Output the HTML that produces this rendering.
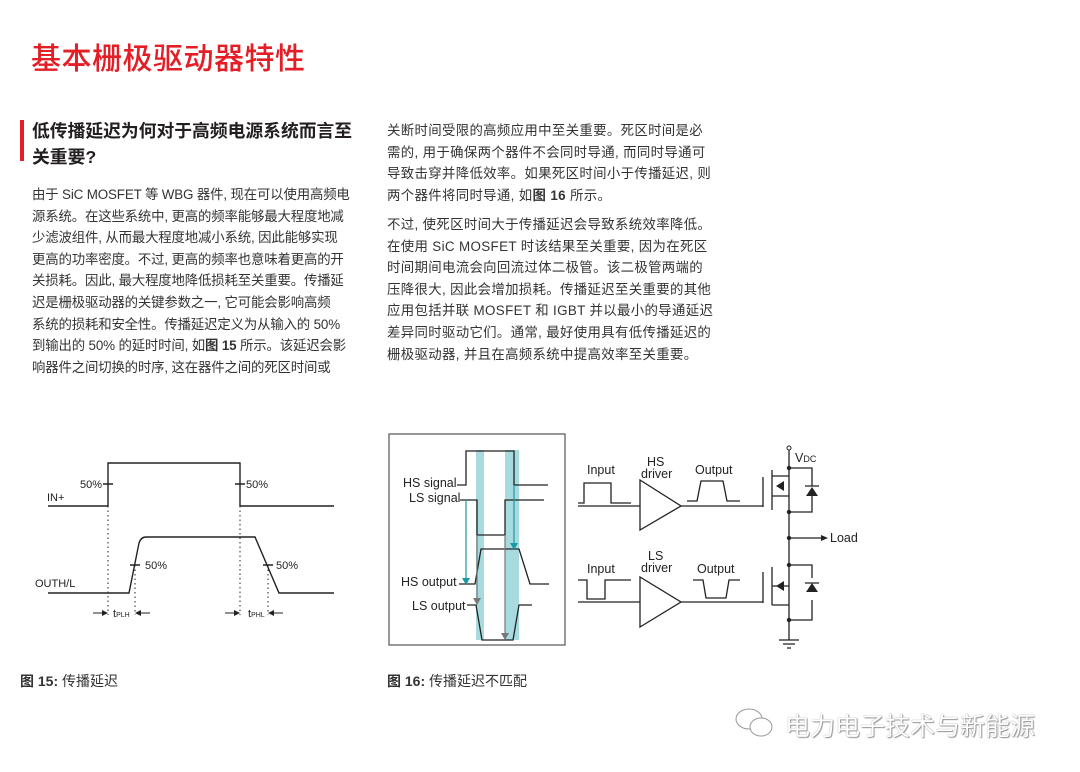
<!DOCTYPE html>
<html><head><meta charset="utf-8"><style>
body{margin:0;background:#fff;width:1080px;height:772px;position:relative;overflow:hidden;font-family:"Liberation Sans","Noto Sans CJK SC",sans-serif;color:#231f20}
.t{position:absolute;left:31px;top:34px;font-size:30px;color:#e41e26;font-weight:500;letter-spacing:0.5px}
.bar{position:absolute;left:20px;top:120px;width:4px;height:41px;background:#e41e26}
.h{position:absolute;left:32px;top:118px;font-size:17.8px;font-weight:bold;line-height:26px;white-space:nowrap}
.p{position:absolute;font-size:13.4px;line-height:21.6px;color:#333;white-space:nowrap}
.cap{position:absolute;top:671px;font-size:14px;color:#333}
.wm{position:absolute;left:785px;top:707px;font-size:25px;color:#fff;text-shadow:0 0 1px #777,1px 1px 1px #999}
</style></head><body>
<div class="t">基本栅极驱动器特性</div>
<div class="bar"></div>
<div class="h">低传播延迟为何对于高频电源系统而言至<br>关重要?</div>
<div class="p" style="left:32px;top:184px;letter-spacing:-0.15px">由于 SiC MOSFET 等 WBG 器件, 现在可以使用高频电<br>源系统。在这些系统中, 更高的频率能够最大程度地减<br>少滤波组件, 从而最大程度地减小系统, 因此能够实现<br>更高的功率密度。不过, 更高的频率也意味着更高的开<br>关损耗。因此, 最大程度地降低损耗至关重要。传播延<br>迟是栅极驱动器的关键参数之一, 它可能会影响高频<br>系统的损耗和安全性。传播延迟定义为从输入的 50%<br>到输出的 50% 的延时时间, 如<b>图 15</b> 所示。该延迟会影<br>响器件之间切换的时序, 这在器件之间的死区时间或</div>
<div class="p" style="left:387px;top:120px;letter-spacing:0.35px">关断时间受限的高频应用中至关重要。死区时间是必<br>需的, 用于确保两个器件不会同时导通, 而同时导通可<br>导致击穿并降低效率。如果死区时间小于传播延迟, 则<br>两个器件将同时导通, 如<b>图 16</b> 所示。</div>
<div class="p" style="left:387px;top:214px;letter-spacing:0.35px">不过, 使死区时间大于传播延迟会导致系统效率降低。<br>在使用 SiC MOSFET 时该结果至关重要, 因为在死区<br>时间期间电流会向回流过体二极管。该二极管两端的<br>压降很大, 因此会增加损耗。传播延迟至关重要的其他<br>应用包括并联 MOSFET 和 IGBT 并以最小的导通延迟<br>差异同时驱动它们。通常, 最好使用具有低传播延迟的<br>栅极驱动器, 并且在高频系统中提高效率至关重要。</div>

<svg width="1080" height="772" style="position:absolute;left:0;top:0" font-family="Liberation Sans, sans-serif" font-size="11" fill="none" stroke="#222">
<g stroke-width="1.4">
<polyline points="48,506 108,506 108,463 240,463 240,506 334,506"/>
<path d="M48,593 H129 L139,543 Q141,537 146,537 H255 L279,593 H334"/>
<path d="M103,484H113M235,484H245M130,565H140M263,565H273"/>
</g>
<g stroke-width="1" stroke-dasharray="1.5,3">
<path d="M108,506V615M135,565V615M240,506V615M268,565V615"/>
</g>
<g fill="#222" stroke="none">
<text x="80" y="488">50%</text><text x="246" y="488">50%</text>
<text x="145" y="569">50%</text><text x="276" y="569">50%</text>
<text x="47" y="501">IN+</text><text x="35" y="587">OUTH/L</text>
<text x="113" y="617">t<tspan font-size="7">PLH</tspan></text>
<text x="248" y="617">t<tspan font-size="7">PHL</tspan></text>
<path d="M108,613l-6,-3v6zM135,613l6,-3v6zM240,613l-6,-3v6zM268,613l6,-3v6z"/>
</g>
<path d="M93,613H104M139,613H150M225,613H236M272,613H283" stroke-width="1"/>
<rect x="389" y="434" width="176" height="211" stroke="#555" stroke-width="1.2"/>
<rect x="476" y="450" width="8" height="190" fill="#a8dbe0" stroke="none"/>
<rect x="505" y="450" width="14" height="190" fill="#a8dbe0" stroke="none"/>
<g stroke-width="1.3">
<polyline points="457,485 466,485 466,451 514,451 514,485 548,485"/>
<polyline points="460,500 477,500 477,535 505,535 505,500 544,500"/>
<polyline points="459,584 475,584 481,549 519,549 530,584 549,584"/>
<polyline points="467,605 476,605 482,640 513,640 519,605 532,605"/>
</g>
<g stroke="#1a9aa5" stroke-width="1.2"><path d="M466,500V580M514,485V545"/></g>
<g fill="#1a9aa5" stroke="none"><path d="M462,578h8l-4,7zM510,543h8l-4,7z"/></g>
<g stroke="#777" stroke-width="1.2"><path d="M477,535V600M505,535V635"/></g>
<g fill="#777" stroke="none"><path d="M473,598h8l-4,7zM501,633h8l-4,7z"/></g>
<g fill="#222" stroke="none" font-size="12.5">
<text x="403" y="487">HS signal</text><text x="409" y="502">LS signal</text>
<text x="401" y="586">HS output</text><text x="412" y="610">LS output</text>
</g>
<g stroke-width="1.3">
<polyline points="578,503 584,503 584,483 611,483 611,503 631,503"/>
<path d="M578,506H640M681,506H763"/>
<polygon points="640,480 640,530 681,506"/>
<path d="M687,501H697L701,481H723L727,501H740"/>
<polyline points="578,580 587,580 587,599 605,599 605,580 631,580"/>
<path d="M578,602H640M681,602H763"/>
<polygon points="640,577 640,627 681,602"/>
<path d="M693,580H703L706,598H726L729,580H740"/>
<path d="M763,477V507M763,572V603"/>
<path d="M772,470V510M772,567V605"/>
<path d="M772,476H789V450M772,496H789V468H812V486M789,496V512H812V496M789,512V565H812V578M772,586H789M772,605H789V565M789,605V620H812V600M789,620V640"/>
<path d="M789,538H822"/>
<path d="M805,486H819M805,583H819"/>
<path d="M779,640H799M783,644H795M787,648H791"/>
</g>
<circle cx="789" cy="448" r="2" fill="#fff"/>
<g fill="#222" stroke="none">
<circle cx="789" cy="468" r="2.2"/><circle cx="789" cy="512" r="2.2"/><circle cx="789" cy="538" r="2.2"/>
<circle cx="789" cy="565" r="2.2"/><circle cx="789" cy="620" r="2.2"/>
<path d="M776,486l8,-5v10zM776,586l8,-5v10z"/>
<path d="M806,496l6,-9l6,9z"/>
<path d="M806,592l6,-9l6,9z"/>
<path d="M828,538l-7,-3v6z"/>
<text x="587" y="474" font-size="12.5">Input</text>
<text x="647" y="466" font-size="12.5">HS</text><text x="641" y="478" font-size="12.5">driver</text>
<text x="695" y="474" font-size="12.5">Output</text>
<text x="587" y="573" font-size="12.5">Input</text>
<text x="648" y="560" font-size="12.5">LS</text><text x="641" y="572" font-size="12.5">driver</text>
<text x="697" y="573" font-size="12.5">Output</text>
<text x="795" y="462" font-size="12.5">V<tspan font-size="9">DC</tspan></text>
<text x="830" y="542" font-size="12.5">Load</text>
</g>
</svg>
<div class="cap" style="left:20px"><b>图 15:</b> 传播延迟</div>
<div class="cap" style="left:387px"><b>图 16:</b> 传播延迟不匹配</div>
<div class="wm">电力电子技术与新能源</div>
<svg width="50" height="40" style="position:absolute;left:733px;top:705px" fill="#fff" stroke="#999" stroke-width="1"><ellipse cx="16" cy="14" rx="13" ry="10"/><ellipse cx="28" cy="22" rx="11" ry="9"/></svg>
</body></html>
